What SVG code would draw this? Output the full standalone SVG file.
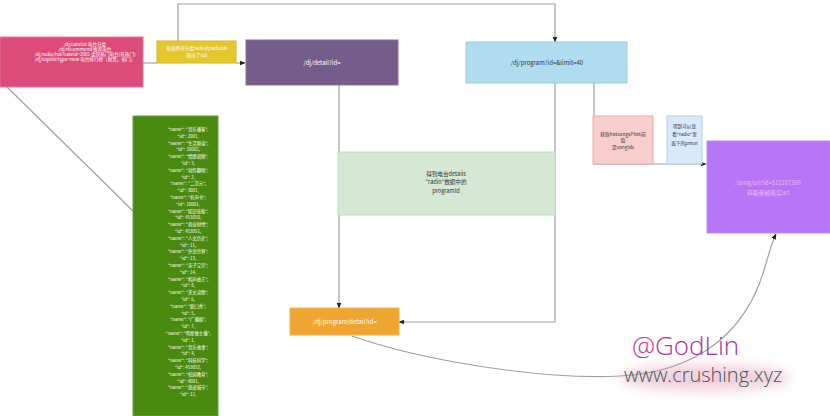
<svg xmlns="http://www.w3.org/2000/svg" width="830" height="416" viewBox="0 0 830 416">
<style>
.t{font-family:"Noto Sans CJK SC","Liberation Sans",sans-serif;text-anchor:middle}
.w{fill:#ffffff}
.d{fill:#333333}
.c{fill:none;stroke:#a0a0a0;stroke-width:1.2}
</style>
<defs>
<marker id="ar" viewBox="0 0 10 10" refX="9" refY="5" markerWidth="5" markerHeight="5" orient="auto">
<path d="M0,1 L10,5 L0,9 z" fill="#222"/>
</marker>
<linearGradient id="gl" x1="0" y1="0" x2="1" y2="1">
<stop offset="0" stop-color="#e0307a"/>
<stop offset="0.5" stop-color="#c02a9a"/>
<stop offset="1" stop-color="#6a3aa8"/>
</linearGradient>
<filter id="blur" x="-20%" y="-50%" width="140%" height="200%"><feGaussianBlur stdDeviation="6"/></filter>
</defs>
<rect width="830" height="416" fill="#ffffff"/>
<g id="connectors">
<path class="c" d="M143,63 H157"/>
<path class="c" d="M236,63 H245" marker-end="url(#ar)"/>
<path class="c" d="M178,42 V4 H555 V42" marker-end="url(#ar)"/>
<path class="c" d="M339,85 V308" marker-end="url(#ar)"/>
<path class="c" d="M555,83 V322 H399" marker-end="url(#ar)"/>
<path class="c" d="M594,83 V164 H706" marker-end="url(#ar)"/>
<path class="c" d="M4,84 L133,211"/>
<path class="c" d="M352,336 C420,360 540,380 620,376 C700,372 742,330 760,282 C768,260 770,246 776,234" marker-end="url(#ar)"/>
</g>
<g id="n-pink">
<rect x="0" y="37" width="143" height="50" fill="#dc4b7a" stroke="#e8789c" stroke-width="1"/>
<text class="t w" font-size="4.6" x="85" y="46">/dj/catelist      电台分类</text>
<text class="t w" font-size="4.6" x="85" y="51">/dj/recommend     推荐电台</text>
<text class="t w" font-size="4.6" x="85" y="56">/dj/radio/hot?cateId=2001  类别热门电台(有热门)</text>
<text class="t w" font-size="4.6" x="85" y="61">/dj/toplist?type=new  电台排行榜（新晋，热门）</text>
</g>
<g id="n-yellow">
<rect x="157" y="41" width="79" height="22" fill="#e3c72c" stroke="#d8b820" stroke-width="1"/>
<text class="t w" font-size="4.6" x="197" y="50">获取所有分类radio的radioIds</text>
<text class="t w" font-size="4.6" x="197" y="57">取出了(id)</text>
</g>
<g id="n-detail">
<rect x="246" y="40" width="152" height="45" fill="#765c8b" stroke="#8a72a0" stroke-width="1"/>
<text class="t w" font-size="6" x="322" y="65">/dj/detail?id=</text>
</g>
<g id="n-program">
<rect x="466" y="42" width="161" height="41" fill="#b1dcf0" stroke="#9ccbe2" stroke-width="1"/>
<text class="t d" font-size="6" x="547" y="65">/dj/program?id=&amp;limit=40</text>
</g>
<g id="n-green-list">
<rect x="133" y="116" width="85" height="300" fill="#4b8a10" stroke="#6aa03a" stroke-width="1"/>
<g class="t w" font-size="4.4">
<text x="188" y="131">"name": "音乐播客",</text>
<text x="188" y="137.8">"id": 2001,</text>
<text x="188" y="144.6">"name": "生活频道",</text>
<text x="188" y="151.4">"id": 10002,</text>
<text x="188" y="158.2">"name": "情感调频",</text>
<text x="188" y="165">"id": 3,</text>
<text x="188" y="171.8">"name": "创作翻唱",</text>
<text x="188" y="178.6">"id": 2,</text>
<text x="188" y="185.4">"name": "二次元",</text>
<text x="188" y="192.2">"id": 3001,</text>
<text x="188" y="199">"name": "有声书",</text>
<text x="188" y="205.8">"id": 10001,</text>
<text x="188" y="212.6">"name": "知识技能",</text>
<text x="188" y="219.4">"id": 453050,</text>
<text x="188" y="226.2">"name": "商业财经",</text>
<text x="188" y="233">"id": 453051,</text>
<text x="188" y="239.8">"name": "人文历史",</text>
<text x="188" y="246.6">"id": 11,</text>
<text x="188" y="253.4">"name": "外语世界",</text>
<text x="188" y="260.2">"id": 13,</text>
<text x="188" y="267">"name": "亲子宝贝",</text>
<text x="188" y="273.8">"id": 14,</text>
<text x="188" y="280.6">"name": "相声曲艺",</text>
<text x="188" y="287.4">"id": 8,</text>
<text x="188" y="294.2">"name": "美文读物",</text>
<text x="188" y="301">"id": 6,</text>
<text x="188" y="307.8">"name": "脱口秀",</text>
<text x="188" y="314.6">"id": 5,</text>
<text x="188" y="321.4">"name": "广播剧",</text>
<text x="188" y="328.2">"id": 7,</text>
<text x="188" y="335">"name": "明星做主播",</text>
<text x="188" y="341.8">"id": 1,</text>
<text x="188" y="348.6">"name": "音乐故事",</text>
<text x="188" y="355.4">"id": 4,</text>
<text x="188" y="362.2">"name": "科技科学",</text>
<text x="188" y="369">"id": 453052,</text>
<text x="188" y="375.8">"name": "校园教育",</text>
<text x="188" y="382.6">"id": 4001,</text>
<text x="188" y="389.4">"name": "旅途城市",</text>
<text x="188" y="396.2">"id": 12,</text>
</g>
</g>
<g id="n-mint">
<rect x="338" y="152" width="217" height="63" fill="#d5e8d4" stroke="#c2dcc0" stroke-width="1"/>
<text class="t d" font-size="5.6" x="446" y="176">得到电台details</text>
<text class="t d" font-size="5.6" x="446" y="184">"radio"数据中的</text>
<text class="t d" font-size="5.6" x="446" y="193">programId</text>
</g>
<g id="n-salmon">
<rect x="593" y="116" width="60" height="48" fill="#f8cecc" stroke="#e8aaa8" stroke-width="1"/>
<text class="t d" font-size="4.8" x="623" y="136">获取hotsongsPhot前</text>
<text class="t d" font-size="4.8" x="623" y="142">值</text>
<text class="t d" font-size="4.8" x="623" y="149">是songIds</text>
</g>
<g id="n-smallblue">
<rect x="667" y="116" width="35" height="48" fill="#dae8fc" stroke="#b8cde8" stroke-width="1"/>
<text class="t d" font-size="4.6" x="684.5" y="128">得到可以查</text>
<text class="t d" font-size="4.6" x="684.5" y="136">看"radio"里</text>
<text class="t d" font-size="4.6" x="684.5" y="145">面下的pmun</text>
</g>
<g id="n-songurl">
<rect x="707" y="141" width="123" height="92" fill="#b676f7" stroke="#c08af8" stroke-width="1"/>
<text class="t" fill="#f2b8f0" font-size="5.8" x="768" y="185">/song/url?id=512187269</text>
<text class="t" fill="#f2b8f0" font-size="5.8" x="768" y="195">获取音频真实url</text>
</g>
<g id="n-orange">
<rect x="290" y="308" width="109" height="27" fill="#f0a431" stroke="#f4b450" stroke-width="1"/>
<text class="t w" font-size="6" x="345" y="324">/dj/program/detail?id=</text>
</g>
<g id="watermark">
<ellipse cx="705" cy="378" rx="85" ry="13" fill="#e8a8c0" opacity="0.55" filter="url(#blur)"/>
<text x="632" y="355" font-family="'Open Sans','DejaVu Sans',sans-serif" font-weight="300" font-size="26" fill="url(#gl)">@GodLin</text>
<text x="624" y="382" font-family="'Open Sans','DejaVu Sans',sans-serif" font-weight="300" font-size="20" fill="#3e5c5a">www.crushing.xyz</text>
</g>
</svg>
